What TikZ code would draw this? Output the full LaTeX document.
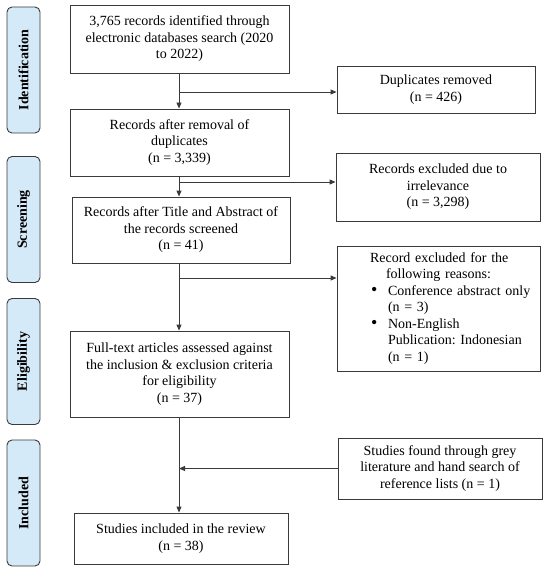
\documentclass[tikz,border=0pt]{standalone}
\usepackage{fontspec}
\setmainfont{Liberation Serif}
\usetikzlibrary{arrows.meta,positioning}
\frenchspacing
\definecolor{linec}{HTML}{3A3A3A}
\definecolor{phasefill}{HTML}{D5EAF9}
\tikzset{
  box/.style={draw=linec, line width=0.9pt, align=center, inner sep=2pt, font=\fontsize{14}{16.5}\selectfont},
  phase/.style={draw=linec, line width=0.9pt, fill=phasefill, rounded corners=5pt, rotate=90,
    minimum width=126pt, minimum height=33pt, inner sep=0pt, font=\fontsize{14}{16}\selectfont\bfseries},
  arr/.style={draw=linec, line width=0.9pt, -{Triangle[length=6pt,width=5pt]}},
  conn/.style={draw=linec, line width=0.9pt}
}
\newcommand{\bigbul}{\makebox[18pt][l]{\hspace*{1pt}{\fontsize{18}{16.5}\selectfont\textbullet}}}
\begin{document}
\begin{tikzpicture}[x=1pt,y=-1pt]
\useasboundingbox (0,0) rectangle (550,572);
% phase labels
\node[phase] (pid) at (23.5,70) {Identification};
\node[phase] (psc) at (23.5,219.5) {Screening};
\node[phase] (pel) at (23.5,361.5) {Eligibility};
\node[phase] (pin) at (23.5,503) {Included};
% main boxes
\node[box, minimum width=219pt, minimum height=68pt] (b1) at (179.5,39) {3,765 records identified through\\electronic databases search (2020\\to 2022)};
\node[box, minimum width=219pt, minimum height=67pt] (b2) at (179.5,142.5) {Records after removal of\\duplicates\\(n = 3,339)};
\node[box, minimum width=218pt, minimum height=66pt] (b3) at (181,230) {Records after Title and Abstract of\\the records screened\\(n = 41)};
\node[box, minimum width=219pt, minimum height=86pt] (b4) at (179.5,374) {Full-text articles assessed against\\the inclusion \& exclusion criteria\\for eligibility\\(n = 37)};
\node[box, minimum width=214pt, minimum height=51pt] (b5) at (181,538.5) {Studies included in the review\\(n = 38)};
% side boxes
\node[box, minimum width=198pt, minimum height=47pt] (dup) at (436,89.5) {Duplicates removed\\(n = 426)};
\node[box, minimum width=204pt, minimum height=68pt] (irr) at (438,187) {Records excluded due to\\irrelevance\\(n = 3,298)};
\node[box, minimum width=203pt, minimum height=125pt, text width=203pt, align=left, inner xsep=0pt] (rea) at (438.5,308.5) {%
\hspace*{33pt}Record excluded for the\\
\hspace*{49pt}following reasons:\\
\hspace*{33pt}\bigbul Conference abstract only\\
\hspace*{51pt}(n = 3)\\
\hspace*{33pt}\bigbul Non-English\\
\hspace*{51pt}Publication: Indonesian\\
\hspace*{51pt}(n = 1)};
\node[box, minimum width=204pt, minimum height=61pt] (grey) at (440,468.5) {Studies found through grey\\literature and hand search of\\reference lists (n = 1)};
% vertical flow
\draw[arr] (b1.south -| 179,0) -- (b2.north -| 179,0);
\draw[arr] (b2.south -| 179,0) -- (b3.north -| 179,0);
\draw[arr] (b3.south -| 179,0) -- (b4.north -| 179,0);
\draw[arr] (b4.south -| 179,0) -- (b5.north -| 179,0);
% side branches
\coordinate (s1) at (179,92);
\coordinate (s2) at (179,182);
\coordinate (s3) at (179,278);
\coordinate (s4) at (179,468.5);
\draw[arr] (s1) -- (s1 -| dup.west);
\draw[arr] (s2) -- (s2 -| irr.west);
\draw[arr] (s3) -- (s3 -| rea.west);
\draw[arr] (grey.west) -- (s4);
\end{tikzpicture}
\end{document}
